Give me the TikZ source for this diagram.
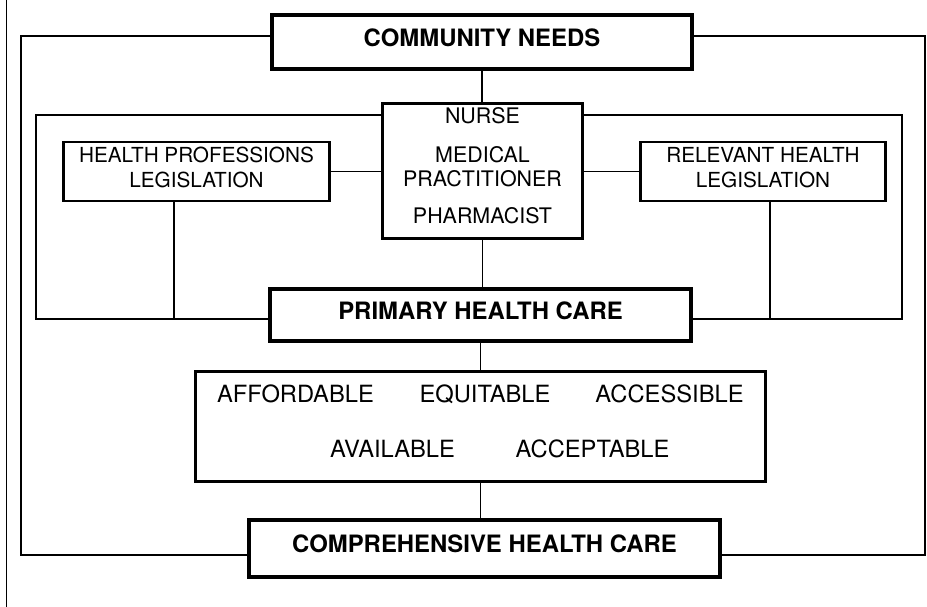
\documentclass[tikz,border=0pt]{standalone}
\usepackage{fontspec}
\setmainfont{TeX Gyre Heros}

\begin{document}
\begin{tikzpicture}[x=1bp, y=-1bp,
    bigbox/.style={draw, line width=4bp, inner sep=0pt, text depth=9bp, font=\bfseries\fontsize{24}{28}\selectfont},
    box/.style={draw, line width=2.5bp, inner sep=0pt, text depth=9bp, align=center, font=\fontsize{20.8}{25}\selectfont},
    names/.style={inner sep=0pt, align=center, font=\fontsize{21.5}{24}\selectfont},
    word/.style={inner sep=0pt, font=\fontsize{23.8}{28}\selectfont},
    link/.style={line width=1.2bp}
  ]
  \useasboundingbox (0,0) rectangle (927,607);

  % page edge
  \draw[line width=0.8bp] (6,0) -- (6,607);

  \node[bigbox, minimum width=420bp, minimum height=54bp] (need) at (482,42) {COMMUNITY NEEDS};
  \node[box, minimum width=200bp, minimum height=135bp] (staff) at (482.5,171) {};
  \node[names, anchor=north] (staff-text) at ([yshift=-5bp]staff.north)
    {NURSE\\[15bp]MEDICAL\\PRACTITIONER\\[13bp]PHARMACIST};
  \node[box, minimum width=266bp, minimum height=59bp] (hpl) at (196.5,171.5) {HEALTH PROFESSIONS\\LEGISLATION};
  \node[box, minimum width=245bp, minimum height=59bp] (rhl) at (763,171.5) {RELEVANT HEALTH\\LEGISLATION};
  \node[bigbox, minimum width=421bp, minimum height=52bp] (phc) at (480.5,315) {PRIMARY HEALTH CARE};
  \node[box, minimum width=570bp, minimum height=110bp] (qualities) at (480.5,426.5) {};
  \node[bigbox, minimum width=471bp, minimum height=57bp] (care) at (484.5,548.5) {COMPREHENSIVE HEALTH CARE};

  \node[word] (afford) at (295.5,394) {AFFORDABLE};
  \node[word] (equit)  at (485,394)   {EQUITABLE};
  \node[word] (access) at (669.5,394) {ACCESSIBLE};
  \node[word] (avail)  at (392.5,449) {AVAILABLE};
  \node[word] (accept) at (592.5,449) {ACCEPTABLE};

  \coordinate (outer-nw) at (21,36);
  \coordinate (outer-sw) at (21,555);
  \coordinate (outer-ne) at (925,36);
  \coordinate (outer-se) at (925,555);
  \coordinate (inner-nw) at (36,115);
  \coordinate (inner-sw) at (36,319);
  \coordinate (inner-ne) at (902,115);
  \coordinate (inner-se) at (902,319);
  \coordinate (hpl-foot) at (174,319);
  \coordinate (rhl-foot) at (770,319);

  \draw[link] (need.west |- outer-nw) -- (outer-nw) -- (outer-sw) -- (care.west |- outer-sw);
  \draw[link] (need.east |- outer-ne) -- (outer-ne) -- (outer-se) -- (care.east |- outer-se);
  \draw[link] (staff.west |- inner-nw) -- (inner-nw) -- (inner-sw) -- (phc.west |- inner-sw);
  \draw[link] (staff.east |- inner-ne) -- (inner-ne) -- (inner-se) -- (phc.east |- inner-se);
  \draw[link] (hpl.south -| hpl-foot) -- (hpl-foot);
  \draw[link] (rhl.south -| rhl-foot) -- (rhl-foot);
  \draw[link] (hpl.east) -- (hpl.east -| staff.west);
  \draw[link] (rhl.west) -- (rhl.west -| staff.east);
  \draw[link] (need.south) -- (need.south |- staff.north);
  \draw[link] (staff.south) -- (staff.south |- phc.north);
  \draw[link] (phc.south) -- (phc.south |- qualities.north);
  \draw[link] (qualities.south) -- (qualities.south |- care.north);
\end{tikzpicture}
\end{document}
